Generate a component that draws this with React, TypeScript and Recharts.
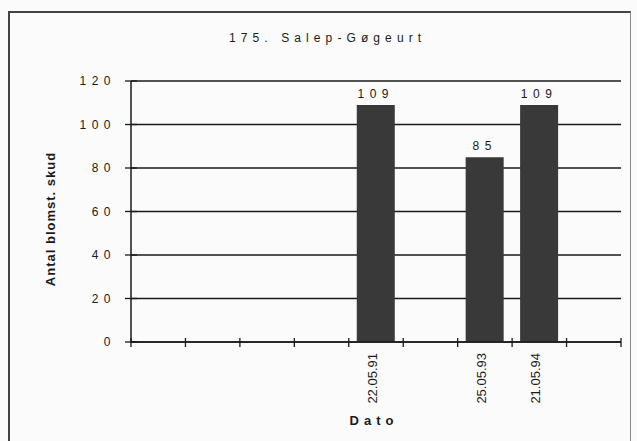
import React from 'react';
import { BarChart, Bar, XAxis, YAxis, CartesianGrid, LabelList, Label } from 'recharts';

const dates = ['', '', '', '', '22.05.91', '', '25.05.93', '21.05.94', ''];
const counts: (number | null)[] = [null, null, null, null, 109, null, 85, 109, null];
const yTicks = [0, 20, 40, 60, 80, 100, 120];
const slotEdges = [0, 1, 2, 3, 4, 5, 6, 7, 8, 9];

const data = dates.map((date, i) => ({ pos: i + 0.5, date, value: counts[i] }));

const INK = '#1a1a1a';
const FONT = 'Arial, "Liberation Sans", sans-serif';

// x ticks cross the axis line, like the old spreadsheet charts
const XTick = ({ x, y }: any) => (
  <line x1={x} x2={x} y1={y - 4} y2={y + 5} stroke={INK} strokeWidth={1.3} />
);

const YTick = ({ x, y, payload }: any) => (
  <g>
    <line x1={x - 6} x2={x + 6} y1={y} y2={y} stroke={INK} strokeWidth={1.3} />
    <text
      x={x - 15}
      y={y}
      textAnchor="end"
      dominantBaseline="central"
      fill={INK}
      fontSize={12}
      fontFamily={FONT}
      letterSpacing={5.5}
    >
      {payload.value}
    </text>
  </g>
);

const DateLabel = ({ x, y, width, height, value }: any) => {
  if (!value) return null;
  const cx = x + width / 2 + 1;
  const top = y + height + 11;
  return (
    <text
      x={cx}
      y={top}
      transform={`rotate(-90 ${cx} ${top})`}
      textAnchor="end"
      fill={INK}
      fontSize={13}
      fontFamily={FONT}
    >
      {value}
    </text>
  );
};

export default function App() {
  return (
    <div style={{ position: 'relative', width: 637, height: 441, background: '#fbfbfb', overflow: 'hidden' }}>
      <style>{'body{margin:0;overflow:hidden}'}</style>
      <div
        style={{
          position: 'absolute',
          left: 8,
          top: 11,
          width: 620,
          height: 440,
          borderTop: '2px solid #444',
          borderLeft: '2px solid #444',
          borderRight: '1px solid #888',
        }}
      />
      <div
        style={{
          position: 'absolute',
          left: 229,
          top: 31,
          fontFamily: FONT,
          fontSize: 12,
          letterSpacing: 5.1,
          color: INK,
          whiteSpace: 'nowrap',
        }}
      >
        175. Salep-Gøgeurt
      </div>
      <div style={{ position: 'absolute', left: 0, top: 0 }}>
        <BarChart
          width={637}
          height={441}
          data={data}
          margin={{ top: 81, right: 16, bottom: 9, left: 71 }}
          barSize={38}
        >
          <CartesianGrid horizontal vertical={false} stroke={INK} strokeWidth={1.5} />
          <XAxis
            type="number"
            dataKey="pos"
            domain={[0, 9]}
            ticks={slotEdges}
            height={90}
            axisLine={{ stroke: INK, strokeWidth: 1.5 }}
            tickLine={false}
            tickSize={0}
            tickMargin={0}
            tick={<XTick />}
            allowDataOverflow
          >
            <Label
              content={({ viewBox }: any) => (
                <text
                  x={viewBox.x + viewBox.width / 2 - 2}
                  y={viewBox.y + 83}
                  textAnchor="middle"
                  fill={INK}
                  fontSize={13}
                  fontWeight="bold"
                  fontFamily={FONT}
                  letterSpacing={5}
                >
                  Dato
                </text>
              )}
            />
          </XAxis>
          <YAxis
            domain={[0, 120]}
            ticks={yTicks}
            width={60}
            axisLine={{ stroke: INK, strokeWidth: 1.5 }}
            tickLine={false}
            tickSize={0}
            tickMargin={0}
            tick={<YTick />}
          >
            <Label
              content={({ viewBox }: any) => {
                const lx = viewBox.x - 21;
                const ly = viewBox.y + 138;
                return (
                  <text
                    x={lx}
                    y={ly}
                    transform={`rotate(-90 ${lx} ${ly})`}
                    textAnchor="middle"
                    dominantBaseline="central"
                    fill={INK}
                    fontSize={13}
                    fontWeight="bold"
                    fontFamily={FONT}
                    letterSpacing={1}
                  >
                    Antal blomst. skud
                  </text>
                );
              }}
            />
          </YAxis>
          <Bar dataKey="value" fill="#393939" isAnimationActive={false}>
            <LabelList
              dataKey="value"
              position="top"
              offset={7}
              fill={INK}
              fontSize={12}
              fontFamily={FONT}
              letterSpacing={5.5}
            />
            <LabelList dataKey="date" content={<DateLabel />} />
          </Bar>
        </BarChart>
      </div>
    </div>
  );
}
